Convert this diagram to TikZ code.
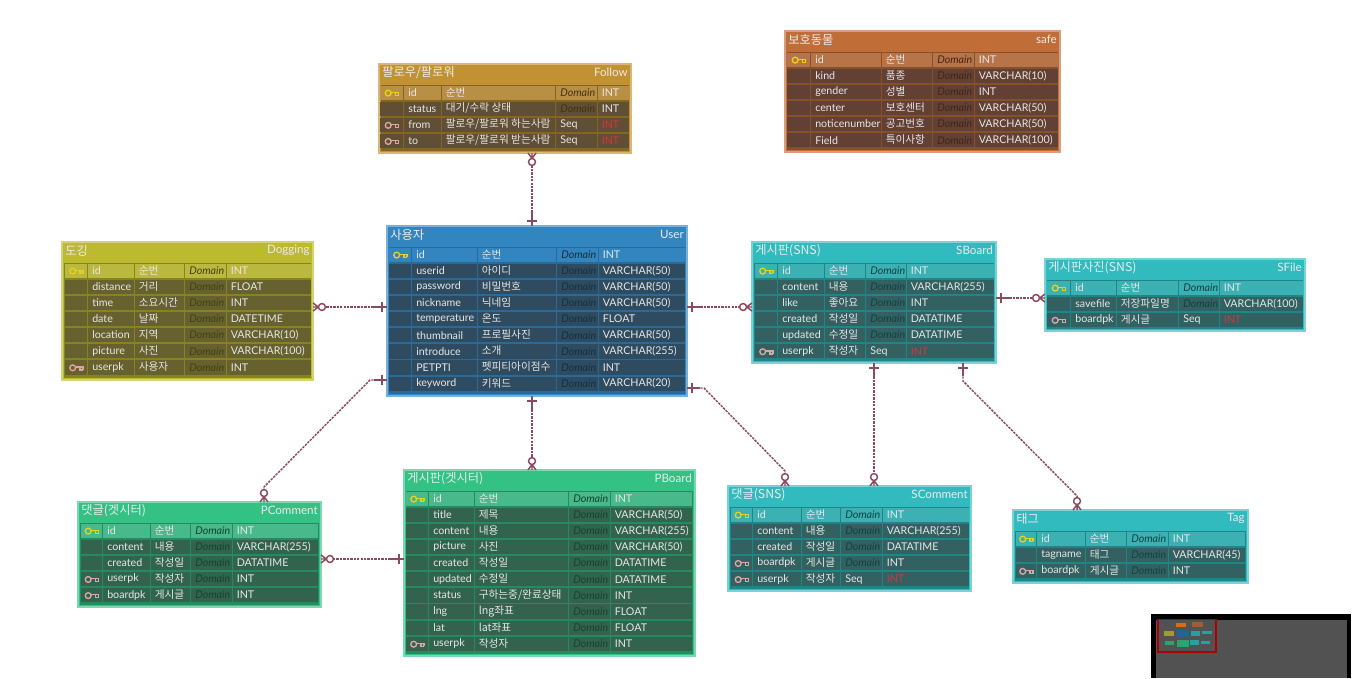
\documentclass[tikz,border=0pt]{standalone}
\usepackage{fontspec}
\usetikzlibrary{fit}
\setmainfont{Lato}
\newfontfamily\kr{Noto Sans CJK KR}
\definecolor{linkc}{HTML}{8C4A5E}
\definecolor{txtc}{HTML}{E6E6E6}
\definecolor{intred}{HTML}{D8343C}
\definecolor{pkc}{HTML}{E6D020}
\definecolor{fkc}{HTML}{DDA6A6}
\definecolor{fH}{HTML}{C29131}\definecolor{fR}{HTML}{604F34}\definecolor{fI}{HTML}{B98E45}\definecolor{fS}{HTML}{83661F}
\definecolor{uH}{HTML}{3385C0}\definecolor{uR}{HTML}{2F4B60}\definecolor{uI}{HTML}{3385C0}\definecolor{uS}{HTML}{2A6A9A}
\definecolor{aH}{HTML}{C06D38}\definecolor{aR}{HTML}{624034}\definecolor{aI}{HTML}{B87449}\definecolor{aS}{HTML}{85502C}
\definecolor{dH}{HTML}{BCBA2F}\definecolor{dR}{HTML}{66612F}\definecolor{dI}{HTML}{BBB83F}\definecolor{dS}{HTML}{85851F}
\definecolor{sH}{HTML}{31BBBE}\definecolor{sR}{HTML}{336060}\definecolor{sI}{HTML}{3CB1B4}\definecolor{sS}{HTML}{1F8585}
\definecolor{gH}{HTML}{33C184}\definecolor{gR}{HTML}{33634F}\definecolor{gI}{HTML}{47B98B}\definecolor{gS}{HTML}{258A5F}
\tikzset{
  tablebox/.style={fit={#1},inner sep=0pt,outer sep=0pt,line width=1pt},
  celltext/.style={anchor=west,inner sep=0pt,text=txtc,font=\fontsize{8}{9}\selectfont},
  titletext/.style={inner sep=0pt,text=white!92!black,font=\fontsize{9.2}{10}\selectfont},
  entitle/.style={inner sep=0pt,text=white!92!black,font=\fontsize{8.7}{10}\selectfont},
  relsolid/.style={draw=linkc,line width=1.1pt},
  reldash/.style={draw=linkc,line width=1.1pt,dash pattern=on 1.8pt off 0.8pt}
}
\newcount\rowi
\newcommand\ertable[9]{%
  \gdef\tname{#1}\gdef\tc{#6}\global\rowi=0
  \gdef\tya{#3}\gdef\txa{#2}%
  \node[tablebox={(#2,#3)(#4,#5)},draw=#6H!65!white,fill=#6H] (#1) {};
  \node[titletext,anchor=west] (#1-kr) at (#2+3,#3+9) {\kr #8};
  \node[entitle,anchor=east] (#1-en) at (#4-3,#3+8.5) {#9};
  \fill[#6S] (\txa+2,#3+20.5) rectangle (#4-2,#5-2.5);
  \ignorespaces}
\newcommand\ercols[6]{\gdef\ca{#1}\gdef\cb{#2}\gdef\cc{#3}\gdef\cd{#4}\gdef\ce{#5}\gdef\cf{#6}\ignorespaces}
\newcommand\erow[5]{%
  \pgfmathsetmacro\rtop{\tya+21.6+\the\rowi*16.12}%
  \pgfmathsetmacro\rbot{\rtop+14.2}%
  \pgfmathsetmacro\rmid{\rtop+7.0}%
  \ifnum\rowi=0 \edef\cellc{\tc I}\else\edef\cellc{\tc R}\fi
  \fill[\cellc] (\ca,\rtop) rectangle (\cb-1.4,\rbot);
  \fill[\cellc] (\cb,\rtop) rectangle (\cc-1.4,\rbot);
  \fill[\cellc] (\cc,\rtop) rectangle (\cd-1.4,\rbot);
  \fill[\cellc] (\cd,\rtop) rectangle (\ce-1.4,\rbot);
  \fill[\cellc] (\ce,\rtop) rectangle (\cf,\rbot);
  \if#1n\else
    \if#1p\def\kc{pkc}\else\def\kc{fkc}\fi
    \begin{scope}[shift={({(\ca+\cb)/2-7},\rmid+0.5)},draw=\kc,line width=1pt]
      \draw (3.2,0) circle[radius=2.9];
      \draw (6,-0.8) -- (13.5,-0.8) -- (13.5,2.2) (10.5,-0.8) -- (10.5,2.2) -- (13.5,2.2);
    \end{scope}
  \fi
  \node[celltext] (\tname-\the\rowi-n) at (\cb+4,\rmid) {#2};
  \node[celltext] (\tname-\the\rowi-k) at (\cc+3.5,\rmid-0.5) {\kr #3};
  \node[celltext] (\tname-\the\rowi-d) at (\cd+4,\rmid) {#4};
  \node[celltext] (\tname-\the\rowi-t) at (\ce+3.5,\rmid) {#5};
  \global\advance\rowi by 1 \ignorespaces}
\newcommand\Dm{\textcolor{black!65!\tc H}{\itshape Domain}}
\newcommand\Ri{\textcolor{intred}{INT}}
\newcommand\rel[5]{%
  \path (#1) ++(#2:10pt) coordinate (relp);
  \path (#3) ++(#4:8.5pt) coordinate (relq);
  \draw[relsolid] (#1) -- (relp);
  \path (#1) ++(#2:3.9pt) coordinate (relb);
  \draw[relsolid] (relb) ++(#2+90:3.9pt) -- ++(#2-90:7.8pt);
  \draw[reldash] (relp) #5 -- (relq);
  \begin{scope}[shift={(#3)},rotate=#4]
    \draw[relsolid] (4pt,0pt) -- (0pt,3pt) (4pt,0pt) -- (0pt,-3pt) (0pt,0pt) -- (4pt,0pt);
    \draw[relsolid,fill=white] (6.7pt,0pt) circle[radius=2.6pt];
  \end{scope}\ignorespaces}
\begin{document}
\begin{tikzpicture}[x=0.75pt,y=-0.75pt]
\useasboundingbox[fill=white] (0,0) rectangle (1355,678);

\ertable{follow}{379}{64}{631}{153}{f}{}{팔로우/팔로워}{Follow}
\ercols{380}{404}{442}{556}{598}{629}
\erow{p}{id}{순번}{\Dm}{INT}
\erow{n}{status}{대기/수락 상태}{\Dm}{INT}
\erow{f}{from}{팔로우/팔로워 하는사람}{Seq}{\Ri}
\erow{f}{to}{팔로우/팔로워 받는사람}{Seq}{\Ri}

\ertable{safe}{785}{31}{1060}{152}{a}{}{보호동물}{safe}
\ercols{787}{811}{882}{933}{975}{1058}
\erow{p}{id}{순번}{\Dm}{INT}
\erow{n}{kind}{품종}{\Dm}{VARCHAR(10)}
\erow{n}{gender}{성별}{\Dm}{INT}
\erow{n}{center}{보호센터}{\Dm}{VARCHAR(50)}
\erow{n}{noticenumber}{공고번호}{\Dm}{VARCHAR(50)}
\erow{n}{Field}{특이사항}{\Dm}{VARCHAR(100)}

\ertable{user}{387}{226}{687}{396}{u}{}{사용자}{User}
\ercols{389}{412}{478}{557}{599}{685}
\erow{p}{id}{순번}{\Dm}{INT}
\erow{n}{userid}{아이디}{\Dm}{VARCHAR(50)}
\erow{n}{password}{비밀번호}{\Dm}{VARCHAR(50)}
\erow{n}{nickname}{닉네임}{\Dm}{VARCHAR(50)}
\erow{n}{temperature}{온도}{\Dm}{FLOAT}
\erow{n}{thumbnail}{프로필사진}{\Dm}{VARCHAR(50)}
\erow{n}{introduce}{소개}{\Dm}{VARCHAR(255)}
\erow{n}{PETPTI}{펫피티아이점수}{\Dm}{INT}
\erow{n}{keyword}{키워드}{\Dm}{VARCHAR(20)}

\ertable{dogging}{62}{242}{313}{380}{d}{}{도깅}{Dogging}
\ercols{65}{88}{135}{185}{227}{311}
\erow{p}{id}{순번}{\Dm}{INT}
\erow{n}{distance}{거리}{\Dm}{FLOAT}
\erow{n}{time}{소요시간}{\Dm}{INT}
\erow{n}{date}{날짜}{\Dm}{DATETIME}
\erow{n}{location}{지역}{\Dm}{VARCHAR(10)}
\erow{n}{picture}{사진}{\Dm}{VARCHAR(100)}
\erow{f}{userpk}{사용자}{\Dm}{INT}

\ertable{sboard}{752}{242}{996}{363}{s}{}{게시판(SNS)}{SBoard}
\ercols{755}{778}{825}{866}{907}{994}
\erow{p}{id}{순번}{\Dm}{INT}
\erow{n}{content}{내용}{\Dm}{VARCHAR(255)}
\erow{n}{like}{좋아요}{\Dm}{INT}
\erow{n}{created}{작성일}{\Dm}{DATATIME}
\erow{n}{updated}{수정일}{\Dm}{DATATIME}
\erow{f}{userpk}{작성자}{Seq}{\Ri}

\ertable{sfile}{1045}{259}{1305}{331}{s}{}{게시판사진(SNS)}{SFile}
\ercols{1047}{1071}{1117}{1179}{1220}{1303}
\erow{p}{id}{순번}{\Dm}{INT}
\erow{n}{savefile}{저장파일명}{\Dm}{VARCHAR(100)}
\erow{f}{boardpk}{게시글}{Seq}{\Ri}

\ertable{pboard}{404}{470}{695}{656}{g}{}{게시판(겟시터)}{PBoard}
\ercols{406}{429}{475}{569}{611}{692}
\erow{p}{id}{순번}{\Dm}{INT}
\erow{n}{title}{제목}{\Dm}{VARCHAR(50)}
\erow{n}{content}{내용}{\Dm}{VARCHAR(255)}
\erow{n}{picture}{사진}{\Dm}{VARCHAR(50)}
\erow{n}{created}{작성일}{\Dm}{DATATIME}
\erow{n}{updated}{수정일}{\Dm}{DATATIME}
\erow{n}{status}{구하는중/완료상태}{\Dm}{INT}
\erow{n}{lng}{lng좌표}{\Dm}{FLOAT}
\erow{n}{lat}{lat좌표}{\Dm}{FLOAT}
\erow{f}{userpk}{작성자}{\Dm}{INT}

\ertable{pcomment}{78}{502}{321}{607}{g}{}{댓글(겟시터)}{PComment}
\ercols{81}{103}{151}{191}{233}{318}
\erow{p}{id}{순번}{\Dm}{INT}
\erow{n}{content}{내용}{\Dm}{VARCHAR(255)}
\erow{n}{created}{작성일}{\Dm}{DATATIME}
\erow{f}{userpk}{작성자}{\Dm}{INT}
\erow{f}{boardpk}{게시글}{\Dm}{INT}

\ertable{scomment}{728}{486}{971}{591}{s}{}{댓글(SNS)}{SComment}
\ercols{731}{753}{802}{841}{883}{969}
\erow{p}{id}{순번}{\Dm}{INT}
\erow{n}{content}{내용}{\Dm}{VARCHAR(255)}
\erow{n}{created}{작성일}{\Dm}{DATATIME}
\erow{f}{boardpk}{게시글}{\Dm}{INT}
\erow{f}{userpk}{작성자}{Seq}{\Ri}

\ertable{tag}{1013}{510}{1248}{583}{s}{}{태그}{Tag}
\ercols{1016}{1037}{1086}{1127}{1169}{1245}
\erow{p}{id}{순번}{\Dm}{INT}
\erow{n}{tagname}{태그}{\Dm}{VARCHAR(45)}
\erow{f}{boardpk}{게시글}{\Dm}{INT}

% connectors
\coordinate (ufa) at (532,0 |- user.north);   \coordinate (ufb) at (532,0 |- follow.south);
\coordinate (uda) at (0,307 -| user.west);    \coordinate (udb) at (0,307 -| dogging.east);
\coordinate (usa) at (0,307 -| user.east);    \coordinate (usb) at (0,307 -| sboard.west);
\coordinate (sfa) at (0,298 -| sboard.east);  \coordinate (sfb) at (0,298 -| sfile.west);
\coordinate (upa) at (532,0 |- user.south);   \coordinate (upb) at (532,0 |- pboard.north);
\coordinate (uca) at (0,380 -| user.west);    \coordinate (ucb) at (264,0 |- pcomment.north);
\coordinate (uxa) at (0,388 -| user.east);    \coordinate (uxb) at (785,0 |- scomment.north);
\coordinate (sca) at (874,0 |- sboard.south); \coordinate (scb) at (874,0 |- scomment.north);
\coordinate (sta) at (963,0 |- sboard.south); \coordinate (stb) at (1077,0 |- tag.north);
\coordinate (pca) at (0,559 -| pboard.west);  \coordinate (pcb) at (0,559 -| pcomment.east);
\coordinate (bend1) at (370,380); \coordinate (bend2) at (264,487);
\coordinate (bend3) at (704,388); \coordinate (bend4) at (785,471);
\coordinate (bend5) at (963,381); \coordinate (bend6) at (1077,496);
\rel{ufa}{90}{ufb}{-90}{}
\rel{uda}{180}{udb}{0}{}
\rel{usa}{0}{usb}{180}{}
\rel{sfa}{0}{sfb}{180}{}
\rel{upa}{-90}{upb}{90}{}
\rel{uca}{180}{ucb}{90}{-- (bend1) -- (bend2)}
\rel{uxa}{0}{uxb}{90}{-- (bend3) -- (bend4)}
\rel{sca}{-90}{scb}{90}{}
\rel{sta}{-90}{stb}{90}{-- (bend5) -- (bend6)}
\rel{pca}{180}{pcb}{0}{}

% minimap
\fill[black] (1151,614) rectangle (1351,678);
\fill[black!68] (1156,620) rectangle (1346.5,678);
\fill[fill=black!15!orange!80!brown] (1176,623) rectangle (1186,627);
\fill[fill=aH!85!black] (1192,622) rectangle (1203,627);
\fill[fill=dH!85!black] (1164,631) rectangle (1174,636);
\fill[fill=uH!75!black] (1177,630) rectangle (1189,637);
\fill[fill=sH!85!black] (1191,631) rectangle (1200,636);
\fill[fill=sH!85!black] (1202,631) rectangle (1212,634);
\fill[fill=gH!85!black] (1165,641) rectangle (1174,645);
\fill[fill=gH!85!black] (1177,640) rectangle (1189,647);
\fill[fill=sH!85!black] (1190,640) rectangle (1199,645);
\fill[fill=sH!85!black] (1201,641) rectangle (1210,644);
\draw[draw=red!70!black,line width=0.9pt] (1158,619.5) rectangle (1216,652);
\end{tikzpicture}
\end{document}
